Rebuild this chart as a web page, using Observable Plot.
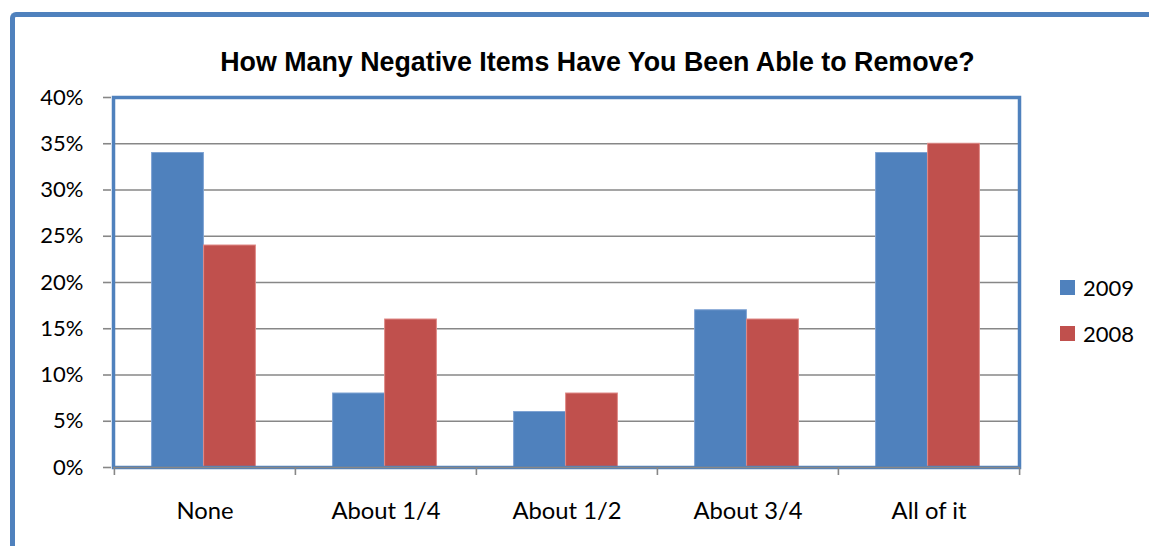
<!DOCTYPE html>
<html>
<head>
<meta charset="utf-8">
<script src="https://cdn.jsdelivr.net/npm/d3@7"></script>
<script src="https://cdn.jsdelivr.net/npm/@observablehq/plot@0.6"></script>
<style>
  html, body { margin: 0; padding: 0; background: #fff; overflow: hidden; }
  #wrap { position: relative; width: 1149px; height: 546px; }
  #border { position: absolute; left: 10px; top: 12px; width: 1300px; height: 700px;
            border-top: 5px solid #4f81bd; border-left: 5px solid #4f81bd; border-top-left-radius: 6px; }
  #title { position: absolute; left: 0; top: 47px; width: 1195px; text-align: center;
           font-family: "Liberation Sans", Arial, sans-serif; font-weight: bold; font-size: 26.8px; color: #000; }
  #chart { position: absolute; left: 0; top: 0; }
  .leg { position: absolute; left: 1060px; font-family: Lato, sans-serif; font-size: 22px; color: #000; display: flex; align-items: center; }
  .leg span.sw { display: inline-block; width: 15px; height: 15px; margin-right: 8px; }
</style>
</head>
<body>
<div id="wrap">
  <div id="border"></div>
  <div id="title">How Many Negative Items Have You Been Able to Remove?</div>
  <div id="chart"></div>
  <div id="legend"></div>
</div>
<script>
const categories = ["None", "About 1/4", "About 1/2", "About 3/4", "All of it"];
const series = ["2009", "2008"];
const values2009 = [34, 8, 6, 17, 34];
const values2008 = [24, 16, 8, 16, 35];
const yTicks = [0, 5, 10, 15, 20, 25, 30, 35, 40];
const colors = {"2009": "#4f81bd", "2008": "#c0504d"};
const strokes = {"2009": "#7fa3d3", "2008": "#e08a88"};

const W = 1149, H = 546;
const mL = 113, mR = 130, mT = 97, mB = 79;
const bw = (W - mL - mR) / categories.length;
const barW = 52;

const d2009 = categories.map((c, i) => ({cat: c, value: values2009[i]}));
const d2008 = categories.map((c, i) => ({cat: c, value: values2008[i]}));

const chart = Plot.plot({
  width: W, height: H,
  marginLeft: mL, marginRight: mR, marginTop: mT, marginBottom: mB,
  style: {fontFamily: "Lato, sans-serif", fontSize: "22px", color: "#000", background: "transparent"},
  x: {domain: categories, padding: 0, label: null},
  y: {domain: [0, 40], label: null},
  marks: [
    Plot.ruleY(yTicks.filter(t => t > 0 && t < 40), {stroke: "#878787", strokeWidth: 1.6}),
    Plot.barY(d2009, {x: "cat", y: "value", fill: colors["2009"], stroke: strokes["2009"], strokeWidth: 1,
      insetLeft: bw / 2 - barW - 1, insetRight: bw / 2 + 1}),
    Plot.barY(d2008, {x: "cat", y: "value", fill: colors["2008"], stroke: strokes["2008"], strokeWidth: 1,
      insetLeft: bw / 2 - 1, insetRight: bw / 2 - barW + 1}),
    Plot.frame({stroke: "#4f81bd", strokeWidth: 3.5}),
    Plot.ruleY([0], {stroke: "#878787", strokeWidth: 1.6}),
    Plot.ruleX(categories, {x: d => d, dx: -bw / 2, y1: 0, y2: 0, insetBottom: -8, stroke: "#878787", strokeWidth: 1.6}),
    Plot.ruleX([categories[categories.length - 1]], {x: d => d, dx: bw / 2, y1: 0, y2: 0, insetBottom: -8, stroke: "#878787", strokeWidth: 1.6}),
    Plot.axisY(yTicks, {tickFormat: d => d + "%", tickSize: 8, tickPadding: 20, stroke: "#878787", strokeWidth: 1.6, fill: "#000", fontSize: 22, dx: -2}),
    Plot.axisX({tickSize: 0, tickPadding: 35, fill: "#000", fontSize: 23.8})
  ]
});
document.getElementById("chart").appendChild(chart);

const legend = document.getElementById("legend");
series.forEach((s, i) => {
  const row = document.createElement("div");
  row.className = "leg";
  row.style.top = (274 + i * 46) + "px";
  row.innerHTML = `<span class="sw" style="background:${colors[s]}"></span><span>${s}</span>`;
  legend.appendChild(row);
});
</script>
</body>
</html>
